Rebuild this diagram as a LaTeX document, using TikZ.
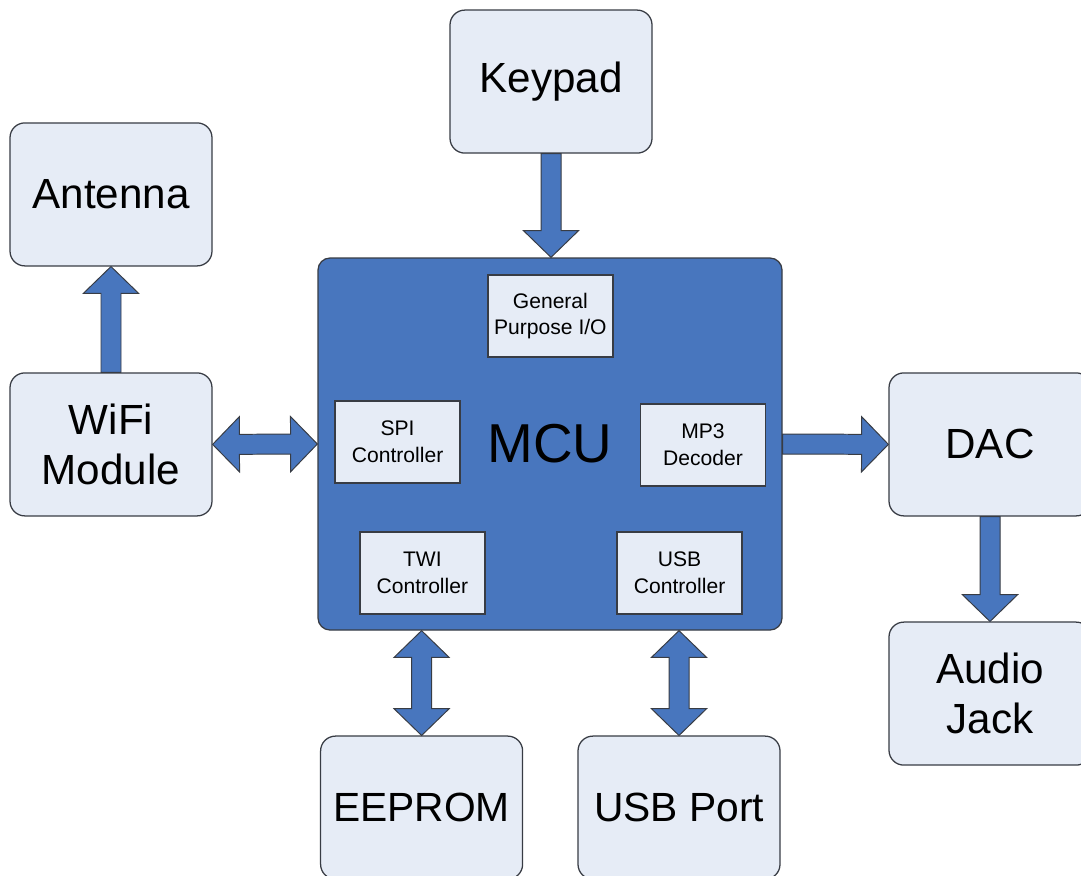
\documentclass[tikz,border=0pt]{standalone}
\usepackage{fontspec}
\setmainfont{Liberation Sans}
\usetikzlibrary{calc}

\definecolor{boxfill}{HTML}{E6ECF6}
\definecolor{mcublue}{HTML}{4876BE}
\definecolor{edgegray}{HTML}{383C44}

\newcommand\fatw{0.25cm} % half width of the shaft
\newcommand\fath{0.69cm} % half width of the head
\newcommand\fatl{0.67cm} % length of the head

\begin{document}
\begin{tikzpicture}[
    block/.style={draw=edgegray, line width=0.9pt, fill=boxfill, rounded corners=0.37cm,
      minimum width=5.05cm, minimum height=3.575cm, align=center,
      font=\fontsize{30}{35.5}\selectfont},
    unit/.style={draw=edgegray, line width=0.9pt, fill=boxfill,
      minimum width=3.125cm, minimum height=2.05cm, align=center,
      font=\fontsize{15}{19}\selectfont},
    fat/.style={draw=edgegray, line width=0.7pt, fill=mcublue, to path={
      ($(\tikztostart)!\fatw!90:(\tikztotarget)$)
      -- ($($(\tikztotarget)!\fatl!(\tikztostart)$)!\fatw!90:(\tikztotarget)$)
      -- ($($(\tikztotarget)!\fatl!(\tikztostart)$)!\fath!90:(\tikztotarget)$)
      -- (\tikztotarget)
      -- ($($(\tikztotarget)!\fatl!(\tikztostart)$)!\fath!-90:(\tikztotarget)$)
      -- ($($(\tikztotarget)!\fatl!(\tikztostart)$)!\fatw!-90:(\tikztotarget)$)
      -- ($(\tikztostart)!\fatw!-90:(\tikztotarget)$) -- cycle}},
    fatboth/.style={draw=edgegray, line width=0.7pt, fill=mcublue, to path={
      (\tikztostart)
      -- ($($(\tikztostart)!\fatl!(\tikztotarget)$)!\fath!90:(\tikztotarget)$)
      -- ($($(\tikztostart)!\fatl!(\tikztotarget)$)!\fatw!90:(\tikztotarget)$)
      -- ($($(\tikztotarget)!\fatl!(\tikztostart)$)!\fatw!90:(\tikztotarget)$)
      -- ($($(\tikztotarget)!\fatl!(\tikztostart)$)!\fath!90:(\tikztotarget)$)
      -- (\tikztotarget)
      -- ($($(\tikztotarget)!\fatl!(\tikztostart)$)!\fath!-90:(\tikztotarget)$)
      -- ($($(\tikztotarget)!\fatl!(\tikztostart)$)!\fatw!-90:(\tikztotarget)$)
      -- ($($(\tikztostart)!\fatl!(\tikztotarget)$)!\fatw!-90:(\tikztotarget)$)
      -- ($($(\tikztostart)!\fatl!(\tikztotarget)$)!\fath!-90:(\tikztotarget)$)
      -- cycle}}]
  \clip (0,0) rectangle (27.025,-21.875);

  % MCU and its blocks
  \node[draw=edgegray, line width=0.9pt, fill=mcublue, rounded corners=0.3cm,
    minimum width=11.6cm, minimum height=9.3cm,
    font=\fontsize{39}{44}\selectfont] (mcu) at (13.75,-11.1) {MCU};
  \node[unit] (gpio) at (13.76,-7.9) {General\\Purpose I/O};
  \node[unit] (spi) at (9.94,-11.05) {SPI\\Controller};
  \node[unit] (mp3) at (17.575,-11.125) {MP3\\Decoder};
  \node[unit] (twi) at (10.56,-14.325) {TWI\\Controller};
  \node[unit] (usbc) at (16.99,-14.325) {USB\\Controller};

  % outer devices
  \node[block] (keypad) at (13.775,-2.04) {Keypad};
  \node[block] (antenna) at (2.775,-4.86) {Antenna};
  \node[block] (wifi) at (2.775,-11.11) {WiFi\\Module};
  \node[block] (dac) at (24.75,-11.11) {DAC};
  \node[block] (audio) at (24.75,-17.34) {Audio\\Jack};
  \node[block, font=\fontsize{29}{34}\selectfont] (eeprom) at (10.54,-20.19) {EEPROM};
  \node[block, font=\fontsize{29}{34}\selectfont] (usbport) at (16.975,-20.19) {USB Port};

  \coordinate (twiport) at (eeprom.north |- mcu.south);
  \coordinate (usbcport) at (usbport.north |- mcu.south);

  % block arrows
  \draw[fat] (keypad.south) to (keypad.south |- mcu.north);
  \draw[fat] (wifi.north) to (antenna.south);
  \draw[fatboth] (wifi.east) to (mcu.west);
  \draw[fat] (mcu.east) to (dac.west);
  \draw[fat] (dac.south) to (audio.north);
  \draw[fatboth] (twiport) to (eeprom.north);
  \draw[fatboth] (usbcport) to (usbport.north);
\end{tikzpicture}
\end{document}
